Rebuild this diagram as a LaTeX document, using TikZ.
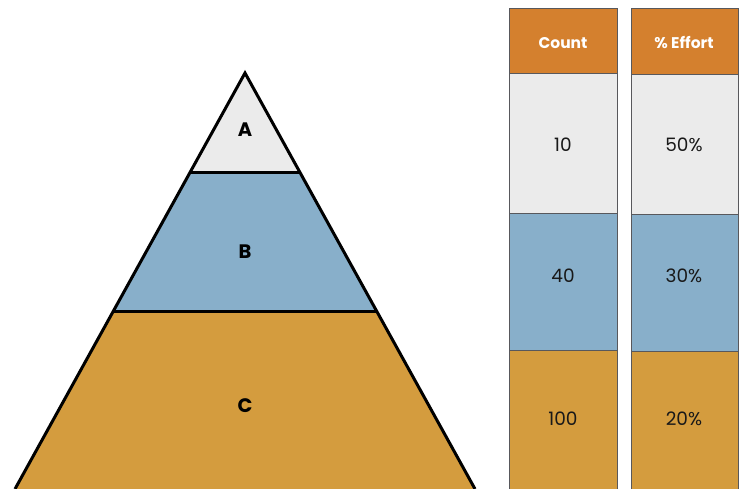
\documentclass[tikz,border=0pt]{standalone}
\usepackage{fontspec}
\setmainfont{Poppins}
\usetikzlibrary{calc}
\definecolor{hdr}{RGB}{212,128,46}
\definecolor{lgray}{RGB}{235,235,235}
\definecolor{blu}{RGB}{136,175,202}
\definecolor{gold}{RGB}{212,156,62}
\definecolor{edge}{RGB}{88,88,92}
\begin{document}
\begin{tikzpicture}[x=1pt,y=1pt,
  cell/.style={draw=edge, line width=1.4pt, inner sep=0pt, anchor=north west},
  val/.style={font=\fontsize{18.5}{22}\selectfont, text=black!90, inner sep=0pt},
  head/.style={font=\fontsize{15.5}{18}\selectfont\bfseries, text=white, inner sep=0pt},
  lvl/.style={font=\fontsize{19.5}{22}\selectfont\bfseries, text=black, inner sep=0pt},
  pyr/.style={line width=3pt, line join=miter, line cap=butt}]
\useasboundingbox (0,0) rectangle (742,489);
% pyramid
\coordinate (apex) at (245,416);
\coordinate (bl) at (15,0);
\coordinate (br) at (475,0);
\coordinate (abl) at ($(apex)!{100/416}!(bl)$);
\coordinate (abr) at ($(apex)!{100/416}!(br)$);
\coordinate (bcl) at ($(apex)!{239/416}!(bl)$);
\coordinate (bcr) at ($(apex)!{239/416}!(br)$);
\fill[gold] (bcl) -- (bcr) -- (br) -- (bl) -- cycle;
\fill[blu] (abl) -- (abr) -- (bcr) -- (bcl) -- cycle;
\fill[lgray] (apex) -- (abr) -- (abl) -- cycle;
\draw[pyr] (bl) -- (apex) -- (br);
\draw[pyr] (abl) -- (abr);
\draw[pyr] (bcl) -- (bcr);
\node[lvl] (la) at (245,359) {A};
\node[lvl] (lb) at (245,237) {B};
\node[lvl] (lc) at (245,83) {C};
% table column 1
\node[cell, fill=hdr, minimum width=108pt, minimum height=65pt] (c1h) at (509,481) {};
\node[cell, fill=lgray, minimum width=108pt, minimum height=140pt] (c1a) at (509,416) {};
\node[cell, fill=blu, minimum width=108pt, minimum height=137pt] (c1b) at (509,276) {};
\node[cell, fill=gold, minimum width=108pt, minimum height=145pt] (c1c) at (509,139) {};
% table column 2
\node[cell, fill=hdr, minimum width=107pt, minimum height=66pt] (c2h) at (631,481) {};
\node[cell, fill=lgray, minimum width=107pt, minimum height=140pt] (c2a) at (631,415) {};
\node[cell, fill=blu, minimum width=107pt, minimum height=137pt] (c2b) at (631,275) {};
\node[cell, fill=gold, minimum width=107pt, minimum height=145pt] (c2c) at (631,138) {};
% texts
\node[head] (t1h) at (563,446) {Count};
\node[head] (t2h) at (684,446) {\% Effort};
\node[val] (t1a) at (563,344) {10};
\node[val] (t1b) at (563,213.5) {40};
\node[val] (t1c) at (563,70) {100};
\node[val] (t2a) at (684,344) {50\%};
\node[val] (t2b) at (684,213.5) {30\%};
\node[val] (t2c) at (684,70) {20\%};
\end{tikzpicture}
\end{document}
